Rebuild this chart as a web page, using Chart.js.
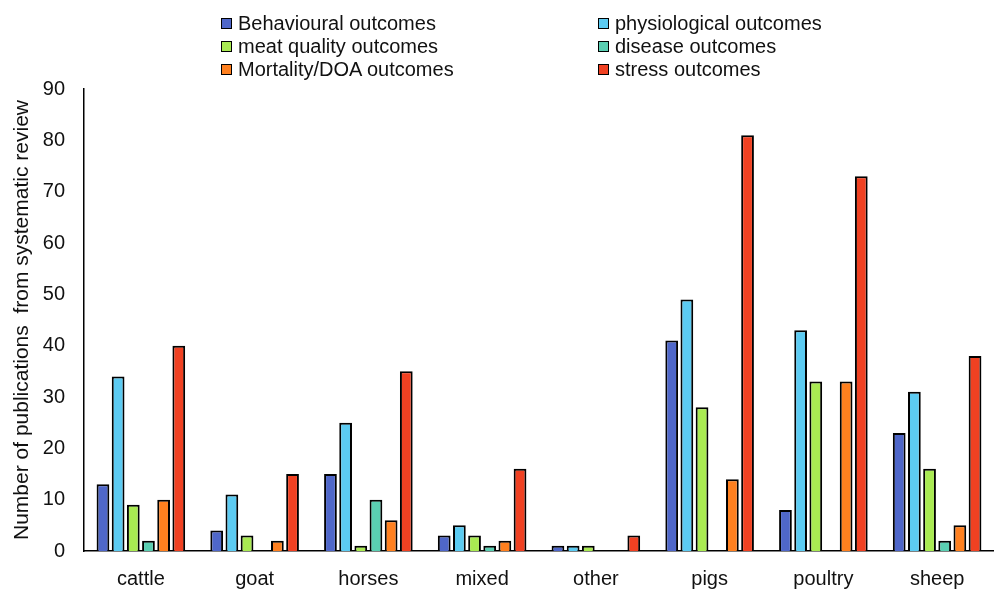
<!DOCTYPE html>
<html>
<head>
<meta charset="utf-8">
<script src="https://cdn.jsdelivr.net/npm/chart.js@4/dist/chart.umd.min.js"></script>
<style>
  body { margin: 0; background: #fff; }
  #wrap { position: relative; width: 994px; height: 590px; }
  canvas { display: block; }
  #legend { position: absolute; left: 0; top: 0; width: 994px; height: 85px;
    font-family: Arial, "Liberation Sans", sans-serif; font-size: 20px; color: #111; }
  .item { position: absolute; height: 23px; line-height: 23px; white-space: nowrap; }
  .box { position: absolute; left: 0; top: 6px; width: 9px; height: 9px; border: 1.5px solid #000; }
  .item span { position: absolute; left: 17px; top: 0; }
</style>
</head>
<body>
<div id="wrap">
  <canvas id="chart" width="994" height="590"></canvas>
  <div id="legend"></div>
</div>
<script>
const categories = ['cattle', 'goat', 'horses', 'mixed', 'other', 'pigs', 'poultry', 'sheep'];
const seriesNames = ['Behavioural outcomes', 'physiological outcomes', 'meat quality outcomes',
  'disease outcomes', 'Mortality/DOA outcomes', 'stress outcomes'];
const behavioural = [13, 4, 15, 3, 1, 41, 8, 23];
const physiological = [34, 11, 25, 5, 1, 49, 43, 31];
const meatQuality = [9, 3, 1, 3, 1, 28, 33, 16];
const disease = [2, 0, 10, 1, 0, 0, 0, 2];
const mortality = [10, 2, 6, 2, 0, 14, 33, 5];
const stress = [40, 15, 35, 16, 3, 81, 73, 38];
const seriesColors = ['#4F67C9', '#5CCBF2', '#A9EA52', '#5ACFB2', '#FF801F', '#F04122'];
const yTicks = [0, 10, 20, 30, 40, 50, 60, 70, 80, 90];

const seriesData = [behavioural, physiological, meatQuality, disease, mortality, stress];
const font = 'Arial, "Liberation Sans", sans-serif';

// legend: 2 columns, 3 rows
const legendPos = [[221, 12], [598, 12], [221, 35], [598, 35], [221, 58], [598, 58]];
const legendEl = document.getElementById('legend');
seriesNames.forEach((name, i) => {
  const div = document.createElement('div');
  div.className = 'item';
  div.style.left = legendPos[i][0] + 'px';
  div.style.top = legendPos[i][1] + 'px';
  div.innerHTML = '<div class="box" style="background:' + seriesColors[i] + '"></div><span>' + name + '</span>';
  legendEl.appendChild(div);
});

const ctx = document.getElementById('chart').getContext('2d');
const chart = new Chart(ctx, {
  type: 'bar',
  data: {
    labels: categories,
    datasets: seriesNames.map((name, i) => ({
      label: name,
      data: seriesData[i],
      backgroundColor: seriesColors[i],
      borderColor: '#000',
      borderWidth: 2,
      borderSkipped: 'start',
      categoryPercentage: 0.8,
      barPercentage: 0.84
    }))
  },
  options: {
    responsive: false,
    animation: false,
    layout: { padding: { top: 89, left: 0, right: 0, bottom: 0 } },
    plugins: { legend: { display: false }, tooltip: { enabled: false } },
    scales: {
      x: {
        afterFit: (scale) => { scale.height = 39; },
        grid: { display: false, drawTicks: false },
        border: { display: true, color: '#000', width: 1.5 },
        ticks: { color: '#111', font: { family: font, size: 20 }, padding: 16 }
      },
      y: {
        min: 0,
        max: 90,
        afterFit: (scale) => { scale.width = 84; },
        afterBuildTicks: (scale) => { scale.ticks = yTicks.map(v => ({ value: v })); },
        grid: { display: false, drawTicks: false },
        border: { display: true, color: '#000', width: 1.5 },
        ticks: { color: '#111', font: { family: font, size: 20 }, padding: 19 },
        title: {
          display: true,
          text: 'Number of publications  from systematic review',
          color: '#111',
          font: { family: font, size: 21 },
          padding: { top: 10, bottom: 0 }
        }
      }
    }
  }
});
</script>
</body>
</html>
